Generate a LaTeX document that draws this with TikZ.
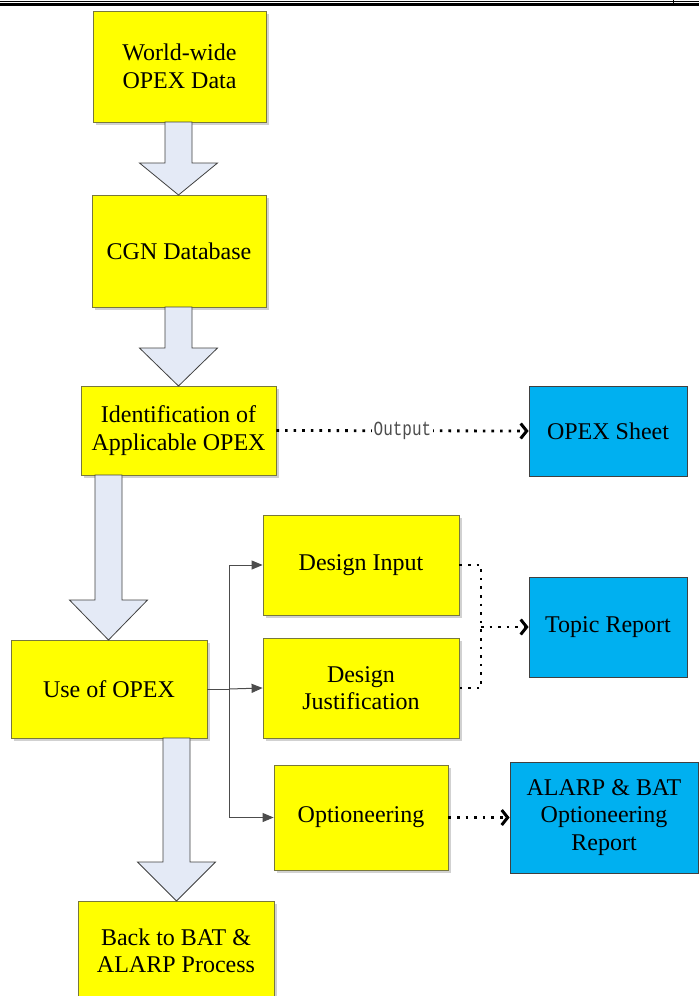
\documentclass[tikz,border=0pt]{standalone}
\usepackage{fontspec}
\setmainfont{Liberation Serif}
\newfontfamily\monofont[FakeStretch=0.8]{Liberation Mono}
\usetikzlibrary{arrows.meta,shadows,calc}
\definecolor{boxyellow}{RGB}{255,255,0}
\definecolor{boxblue}{RGB}{0,176,240}
\definecolor{arrowfill}{RGB}{228,234,246}
\definecolor{yedge}{RGB}{120,120,60}
\tikzset{
  ybox/.style={draw=yedge, fill=boxyellow, line width=0.8pt, align=center,
    font=\fontsize{24}{27.5}\selectfont, inner sep=0pt,
    drop shadow={shadow xshift=3pt, shadow yshift=-3pt, fill=black!18, opacity=1}},
  bbox/.style={draw=black!75, fill=boxblue, line width=0.8pt, align=center,
    font=\fontsize{24}{27.5}\selectfont, inner sep=0pt},
  fatarrow/.style={draw=black!75, fill=arrowfill, line width=0.8pt},
  link/.style={draw=black!70, line width=1pt},
  linktip/.style={-{Triangle[length=11pt,width=9pt]}},
  dotline/.style={line width=2.8pt, dash pattern=on 2.6pt off 6pt},
  opentip/.style={-{Straight Barb[length=6pt,width=15pt,line width=3pt]}}
}
\newcommand\blockarrow[4]{% cx, top, headstart, tip
  \path[fatarrow] (#1-13.5,#2) -- (#1+13.5,#2) -- (#1+13.5,#3) -- (#1+39,#3) -- (#1,#4)
    -- (#1-39,#3) -- (#1-13.5,#3) -- cycle;}
\begin{document}
\begin{tikzpicture}[x=1pt,y=-1pt]
\useasboundingbox (0,0) rectangle (699,996);
% header rules
\draw[line width=1pt] (0,1) -- (699,1);
\draw[line width=2.6pt] (0,4.6) -- (699,4.6);
\draw[line width=1pt] (673,0) -- (673,5);
% left column
\node[ybox, minimum width=173pt, minimum height=111pt] (w) at (179.5,66.5) {World-wide\\OPEX Data};
\node[ybox, minimum width=174pt, minimum height=112pt] (cgn) at (179,251) {CGN Database};
\node[ybox, minimum width=195pt, minimum height=89pt] (ident) at (178.5,430.5) {Identification of\\Applicable OPEX};
\node[ybox, minimum width=196pt, minimum height=98pt] (use) at (109,689) {Use of OPEX};
\node[ybox, minimum width=196pt, minimum height=100pt] (back) at (176,951) {Back to BAT \&\\ALARP Process};
% middle column
\node[ybox, minimum width=196pt, minimum height=100pt] (din) at (361,565) {Design Input};
\node[ybox, minimum width=196pt, minimum height=100pt] (djust) at (361,688) {Design\\Justification};
\node[ybox, minimum width=174pt, minimum height=105pt] (opt) at (361,817.5) {Optioneering};
% right column
\node[bbox, minimum width=158pt, minimum height=90pt] (sheet) at (608,431) {OPEX Sheet};
\node[bbox, minimum width=158pt, minimum height=100pt] (topic) at (608,627) {Topic Report};
\node[bbox, minimum width=188pt, minimum height=111pt] (alarp) at (604,817.5) {ALARP \& BAT\\Optioneering\\Report};
% block arrows
\blockarrow{178.5}{122}{163}{195}
\blockarrow{178.5}{307}{348}{386}
\blockarrow{108.5}{475}{600}{640}
\blockarrow{176.5}{738}{862}{901}
% solid connectors
\coordinate (j) at (229,689);
\draw[link] (use.east) -- (j);
\draw[link,linktip] (j) |- (din.west);
\draw[link,linktip] (j) -- (djust.west);
\draw[link,linktip] (j) |- (opt.west);
% dotted connectors
\draw[dotline,opentip] (ident.east) -- node[fill=white, inner sep=2pt, text=black!70, font=\monofont\fontsize{20}{20}\selectfont] {Output} (sheet.west);
\coordinate (k) at (481,627);
\draw[dotline] (din.east) -| (k) |- (djust.east);
\draw[dotline,opentip] (k) -- (topic.west);
\draw[dotline,opentip] (opt.east) -- (alarp.west);
\end{tikzpicture}
\end{document}
